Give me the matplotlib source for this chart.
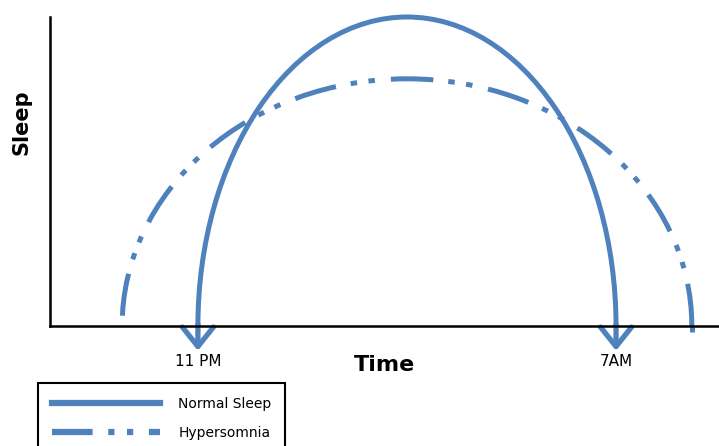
import matplotlib
matplotlib.use("Agg")
import matplotlib.pyplot as plt
from matplotlib.patches import Arc, FancyArrowPatch
from matplotlib.lines import Line2D

# hours after 11 PM, sleep depth (relative)
series_names = ["Normal Sleep", "Hypersomnia"]
sleep_start = [0.0, -1.45]
sleep_end = [8.0, 9.45]
sleep_peak = [1.0, 0.80]
tick_pos = [0.0, 8.0]
tick_labels = ["11 PM", "7AM"]

blue = "#4F81BD"
hyper_dash = (0, (8.5, 3.2, 1.3, 2.3, 1.3, 3.0))

fig = plt.figure(figsize=(7.19, 4.46), dpi=100)
ax = fig.add_axes([50 / 719, (446 - 326) / 446, 669 / 719, 309 / 446])
ax.set_xlim(-2.83, 9.97)
ax.set_ylim(0, 1.0)

styles = ["-", hyper_dash]
for s, e, p, ls in zip(sleep_start, sleep_end, sleep_peak, styles):
    arc = Arc(((s + e) / 2, 0), e - s, 2 * p, theta1=0, theta2=180,
              color=blue, lw=3.6, linestyle=ls, clip_on=False)
    ax.add_patch(arc)

# arrows at the ends of normal sleep
for x in [sleep_start[0], sleep_end[0]]:
    arr = FancyArrowPatch((x, 0.005), (x, -0.08), arrowstyle="->,head_length=5,head_width=4",
                          color=blue, lw=3.8, clip_on=False, mutation_scale=2.8,
                          shrinkA=0, shrinkB=0)
    ax.add_patch(arr)

# hypersomnia tail below axis on the right
ax.plot([sleep_end[1], sleep_end[1]], [0.0, -0.02], color=blue, lw=3.6, clip_on=False,
        solid_capstyle="butt")

for side in ["top", "right"]:
    ax.spines[side].set_visible(False)
ax.spines["left"].set_linewidth(1.8)
ax.spines["bottom"].set_linewidth(1.8)
ax.set_yticks([])
ax.set_xticks(tick_pos, tick_labels, fontsize=11, fontfamily="DejaVu Sans")
ax.tick_params(axis="x", length=0, pad=20)
ax.set_xlabel("Time", fontsize=16, fontweight="bold", labelpad=-10)
ax.set_ylabel("Sleep", fontsize=15, fontweight="bold")
ax.yaxis.set_label_coords(-0.027, 0.66)
ax.set_zorder(2)

handles = [Line2D([0], [0], color=blue, lw=4.5, linestyle="-"),
           Line2D([0], [0], color=blue, lw=4.5, linestyle=(0, (6.5, 2.5, 1.0, 2.0, 1.0, 2.5)))]
leg = fig.legend(handles, series_names, loc="upper left",
                 bbox_to_anchor=(38 / 719, (446 - 383) / 446), fontsize=10,
                 handlelength=7.8, handletextpad=1.3, borderpad=1.0, labelspacing=1.1,
                 borderaxespad=0, fancybox=False, edgecolor="black", framealpha=1)
leg.get_frame().set_linewidth(1.5)

fig.savefig("out.png", dpi=100)
